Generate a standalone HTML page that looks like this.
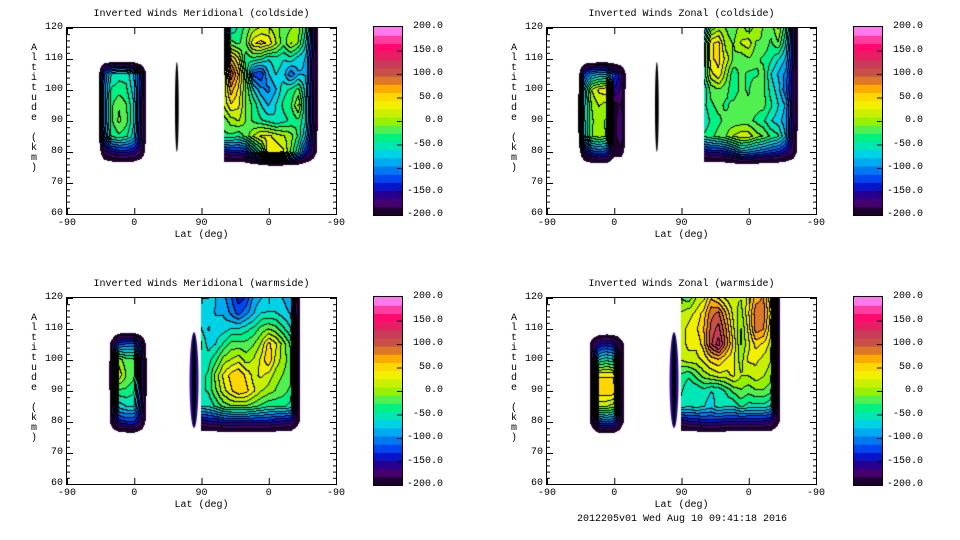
<!DOCTYPE html>
<html><head><meta charset="utf-8">
<style>
html,body{margin:0;padding:0;background:#fff;}
#root{position:relative;width:960px;height:540px;overflow:hidden;background:#fff;font-family:"Liberation Mono","DejaVu Sans Mono",monospace;font-size:10px;color:#000;}
.abs{position:absolute;white-space:nowrap;}
canvas{position:absolute;}
svg{position:absolute;left:0;top:0;}
</style></head>
<body>
<div id="root">
<div class="abs" style="left:577px;top:514px;">2012205v01 Wed Aug 10 09:41:18 2016</div>
</div>
<script>
// ---- data ----
const levelColors=['#1e0030','#46006e','#280090','#0a14c8','#0046f0','#0078f0','#00aaf0','#00d2e6','#00e6b4','#00f082','#50f050','#96f000','#c8f000','#f0f000','#ffd700','#ffaa00','#dc7828','#c85046','#c83c5a','#e61e64','#ff0a6e','#ff3ca0','#ff78f0'];
const xTickLabels=['-90','0','90','0','-90'];
const yTickLabels=['120','110','100','90','80','70','60'];
const cbarLabels=['200.0','150.0','100.0','50.0','0.0','-50.0','-100.0','-150.0','-200.0'];
const panelTitles=['Inverted Winds Meridional (coldside)','Inverted Winds Zonal (coldside)','Inverted Winds Meridional (warmside)','Inverted Winds Zonal (warmside)'];
// grid: columns every 10 deg of path (0..360), rows altitude 120..60 step 5
const tlLeft=[
[-240,-240,-240,-240,-240,-240,-240,-240],
[-240,-120,-60,-50,-50,-80,-150,-240],
[-240,-110,-40,-35,-40,-70,-150,-240],
[-240,-110,-30,-10,-25,-60,-160,-240],
[-240,-110,-30,-5,-20,-60,-160,-240],
[-240,-120,-40,-30,-40,-70,-160,-240],
[-240,-170,-150,-140,-140,-150,-180,-240],
[-240,-240,-240,-240,-240,-240,-240,-240]];
const tlRight=[
[-180,-60,-40,-20,0,10,10,0,-20,-10,0,-40,-150,-240],
[-150,-20,-30,-10,40,50,40,10,-20,10,-10,-60,-150,-240],
[-80,60,30,-40,-30,-40,-60,-50,-60,-50,-70,-80,-160,-240],
[0,110,60,-20,-120,-130,-80,-60,-70,-110,-80,-80,-160,-240],
[10,70,40,-10,-60,-90,-100,-80,-50,-40,-20,-70,-160,-240],
[10,40,30,-10,-30,-60,-80,-60,-40,-30,10,-60,-160,-240],
[-20,0,10,-10,-30,-40,-50,-60,-50,-40,-30,-60,-160,-240],
[-30,-30,-40,-20,10,30,30,20,10,0,-30,-80,-170,-240],
[-150,-140,-140,-130,-80,-40,40,40,30,-10,-60,-130,-180,-240],
[-240,-240,-240,-240,-240,-240,-240,-240,-240,-240,-240,-240,-240,-240]];
const trLeft=[
[-240,-240,-240,-240,-240,-240,-240,-240],
[-240,-130,-90,-80,-80,-120,-160,-240],
[-240,-80,10,30,40,-150,-170,-240],
[-240,-70,-10,10,0,-190,-180,-240],
[-240,-70,-10,-5,-10,-190,-170,-240],
[-240,-80,-10,0,-10,-190,-170,-240],
[-240,-160,-120,-110,-120,-190,-190,-240],
[-240,-240,-240,-240,-240,-240,-240,-240]];
const trRight=[
[-100,-20,0,-10,-20,0,-20,0,-10,-20,10,-40,-150,-240],
[-60,40,50,0,-10,10,20,-10,-10,-30,-10,-60,-150,-240],
[-60,40,50,20,-10,-20,-10,-20,-30,-40,-60,-80,-150,-240],
[-40,20,40,0,-40,-20,-30,-30,-20,-60,-80,-100,-160,-240],
[-60,-20,-10,-20,-40,-20,-30,-10,-20,-50,-70,-110,-160,-240],
[-50,-30,-20,-30,-20,-10,-20,-20,-20,-40,-60,-80,-160,-240],
[-60,-40,-30,-20,-20,-20,-20,-30,-40,-60,-70,-90,-160,-240],
[-40,-30,-20,-10,10,20,20,0,-10,-30,-40,-80,-170,-240],
[-150,-140,-140,-130,-110,-80,-90,-100,-110,-120,-130,-150,-180,-240],
[-240,-240,-240,-240,-240,-240,-240,-240,-240,-240,-240,-240,-240,-240]];
const blLeft=[
[-240,-240,-240,-240,-240,-240,-240],
[-240,-190,-120,-110,-110,-160,-240],
[-240,-190,0,-20,-20,-140,-240],
[-240,-180,20,-10,-20,-140,-240],
[-240,-190,-30,-30,-40,-140,-240],
[-240,-190,-70,-60,-60,-150,-240],
[-240,-190,-140,-130,-130,-170,-240],
[-240,-240,-240,-240,-240,-240,-240]];
const blRight=[
[-60,-60,-80,-90,-110,-140,-130,-90,-80,-70,-70,-80,-90,-200,-240],
[-70,-70,-80,-80,-100,-120,-100,-80,-60,-60,-60,-70,-80,-200,-240],
[-60,-80,-70,-70,-60,-60,-50,-40,-20,-10,-20,-40,-60,-200,-240],
[-40,-70,-60,-40,-20,-20,-20,-10,10,50,30,0,-30,-200,-240],
[-50,-50,-30,0,10,20,0,10,30,60,20,0,-20,-200,-240],
[-50,-40,0,30,50,60,40,20,30,20,0,-10,-20,-200,-240],
[-50,-40,-10,20,40,60,50,30,10,0,-10,-20,-30,-200,-240],
[-60,-60,-40,-20,-10,-10,-10,-20,-30,-40,-40,-40,-50,-200,-240],
[-160,-150,-150,-140,-140,-140,-140,-140,-140,-140,-150,-150,-160,-200,-240],
[-240,-240,-240,-240,-240,-240,-240,-240,-240,-240,-240,-240,-240,-240,-240]];
const brLeft=[
[-240,-240,-240,-240,-240,-240,-240],
[-240,-190,-150,-140,-150,-190,-240],
[-240,-190,-60,-50,-60,-190,-240],
[-240,-190,40,40,40,-190,-240],
[-240,-190,60,60,60,-190,-240],
[-240,-190,10,10,0,-190,-240],
[-240,-190,-120,-110,-120,-190,-240],
[-240,-240,-240,-240,-240,-240,-240]];
const brRight=[
[-10,-20,10,20,60,40,20,10,10,30,70,80,30,-200,-240],
[10,20,30,50,90,100,60,20,0,40,90,90,40,-200,-240],
[20,30,40,60,100,120,80,30,-10,30,90,80,30,-200,-240],
[20,30,30,50,110,140,90,40,-10,20,50,40,20,-200,-240],
[10,20,20,30,50,60,40,30,0,30,30,20,10,-200,-240],
[-30,-40,-20,0,10,20,20,30,10,10,20,10,0,-200,-240],
[-40,-60,-60,-50,-60,-60,-40,-20,-10,-20,-10,-10,-20,-200,-240],
[-50,-60,-50,-60,-70,-50,-60,-60,-40,-50,-50,-50,-60,-200,-240],
[-160,-150,-150,-140,-140,-140,-150,-150,-150,-150,-150,-150,-160,-200,-240],
[-240,-240,-240,-240,-240,-240,-240,-240,-240,-240,-240,-240,-240,-240,-240]];
// slivers: [pathDeg, altLow, altHigh, widthDeg]
const coldSlivers=[[147,80,109,5]];
const warmSlivers=[[170,78,109,12]];

// ---- layout ----
const panels=[
 {x:67,y:28,title:panelTitles[0],blocks:[[4,110,tlLeft],[21,120,tlRight]],sl:coldSlivers,warm:false,name:'meridional-coldside'},
 {x:547,y:28,title:panelTitles[1],blocks:[[4,110,trLeft],[21,120,trRight]],sl:coldSlivers,warm:false,name:'zonal-coldside'},
 {x:67,y:298,title:panelTitles[2],blocks:[[5,110,blLeft],[18,120,blRight]],sl:warmSlivers,warm:true,name:'meridional-warmside'},
 {x:547,y:298,title:panelTitles[3],blocks:[[5,110,brLeft],[18,120,brRight]],sl:warmSlivers,warm:true,name:'zonal-warmside'}];
const PW=269,PH=186,CUT=-205;
const root=document.getElementById('root');
const NS='http://www.w3.org/2000/svg';
function sx(p){return p/360*PW;}
function sy(a){return (120-a)/60*PH;}
function level(v){let l=Math.floor((v+200)/400*levelColors.length);return Math.max(0,Math.min(levelColors.length-1,l));}
function hex(c){return [parseInt(c.slice(1,3),16),parseInt(c.slice(3,5),16),parseInt(c.slice(5,7),16)];}
const rgb=levelColors.map(hex);

function buildGrid(blocks){
  const g=[];for(let r=0;r<13;r++){g.push(new Array(37).fill(null));}
  blocks.forEach(b=>{const c0=b[0],r0=(120-b[1])/5;b[2].forEach((row,i)=>row.forEach((v,j)=>{g[r0+i][c0+j]=v;}));});
  return g;
}
function div(txt,l,t,name,extra){const d=document.createElement('div');d.className='abs';d.textContent=txt;d.style.left=l+'px';d.style.top=t+'px';if(extra)Object.assign(d.style,extra);


root.appendChild(d);return d;}

panels.forEach((P,pi)=>{
  const g=buildGrid(P.blocks);
  const cv=document.createElement('canvas');cv.width=PW;cv.height=PH;cv.style.left=P.x+'px';cv.style.top=P.y+'px';
  
  
  root.appendChild(cv);
  const ctx=cv.getContext('2d');const img=ctx.createImageData(PW,PH);
  const L=new Int16Array(PW*PH).fill(-1);
  for(let y=0;y<PH;y++){for(let x=0;x<PW;x++){
    const c=(x+0.5)/PW*36,r=(y+0.5)/PH*12;
    const c0=Math.floor(c),r0=Math.floor(r),c1=Math.min(36,c0+1),r1=Math.min(12,r0+1);
    const a=g[r0][c0],b=g[r0][c1],d=g[r1][c0],e=g[r1][c1];
    if(a===null||b===null||d===null||e===null)continue;
    const fx=c-c0,fy=r-r0;
    const v=a*(1-fx)*(1-fy)+b*fx*(1-fy)+d*(1-fx)*fy+e*fx*fy;
    if(v<CUT)continue;
    L[y*PW+x]=level(v);
  }}
  for(let y=0;y<PH;y++){for(let x=0;x<PW;x++){
    const i=y*PW+x,l=L[i];const o=i*4;
    if(l<0){img.data[o]=255;img.data[o+1]=255;img.data[o+2]=255;img.data[o+3]=255;continue;}
    let col=rgb[l];
    const rt=x+1<PW?L[i+1]:-1,dn=y+1<PH?L[i+PW]:-1;
    if((rt>=0&&rt!==l)||(dn>=0&&dn!==l))col=[0,0,0];
    img.data[o]=col[0];img.data[o+1]=col[1];img.data[o+2]=col[2];img.data[o+3]=255;
  }}
  ctx.putImageData(img,0,0);
  P.sl.forEach(s=>{
    const cx=sx(s[0]),w=sx(s[3]),top=sy(s[2]),bot=sy(s[1]);
    if(P.warm){
      const layers=[['#46006e',1],['#0a14c8',0.7],['#000',0.45]];
      layers.forEach(([c,f])=>{ctx.fillStyle=c;ctx.beginPath();ctx.ellipse(cx,(top+bot)/2,w/2*f,(bot-top)/2*(f>0.9?1:0.97),0,0,Math.PI*2);ctx.fill();});
    }else{
      ctx.fillStyle='#000';ctx.beginPath();ctx.ellipse(cx,(top+bot)/2,w/2,(bot-top)/2,0,0,Math.PI*2);ctx.fill();
    }
  });

  // axes svg
  const svg=document.createElementNS(NS,'svg');svg.setAttribute('width',960);svg.setAttribute('height',540);
  
  
  root.appendChild(svg);
  function ln(x1,y1,x2,y2){const l=document.createElementNS(NS,'line');l.setAttribute('x1',x1);l.setAttribute('y1',y1);l.setAttribute('x2',x2);l.setAttribute('y2',y2);l.setAttribute('stroke','#000');l.setAttribute('stroke-width','1');svg.appendChild(l);return l;}
  const fr=document.createElementNS(NS,'rect');fr.setAttribute('x',P.x-0.5);fr.setAttribute('y',P.y-0.5);fr.setAttribute('width',PW+1);fr.setAttribute('height',PH+1);fr.setAttribute('fill','none');fr.setAttribute('stroke','#000');
  
  
  svg.appendChild(fr);
  for(let a=60;a<=120;a+=2){const y=P.y+sy(a)+0.5;const len=(a%10===0)?6:3;ln(P.x,y,P.x+len,y);ln(P.x+PW-len,y,P.x+PW,y);}
  xTickLabels.forEach((t,i)=>{const x=P.x+sx(i*90)+0.5;ln(x,P.y+PH,x,P.y+PH-6);ln(x,P.y,x,P.y+6);
    div(t,P.x+sx(i*90)-t.length*3,P.y+PH+4,P.name+'-x-tick-label');});
  yTickLabels.forEach((t,i)=>{div(t,P.x-4-t.length*6,P.y+sy(120-i*10)-6,P.name+'-y-tick-label');});
  div(P.title,P.x+PW/2-P.title.length*3,P.y-19,P.name+'-title');
  div('Lat (deg)',P.x+PW/2-27,P.y+PH+16,P.name+'-x-axis-title');
  const yl=div('',P.x-37,P.y+16,P.name+'-y-axis-title',{whiteSpace:'normal',width:'8px',lineHeight:'10px',textAlign:'center'});
  yl.innerHTML='A<br>l<br>t<br>i<br>t<br>u<br>d<br>e<br>&nbsp;<br>(<br>k<br>m<br>)';
  // colorbar
  const cbx=P.x+307,cby=P.y-1,cbw=28,cbh=188;
  const n=levelColors.length;
  levelColors.forEach((c,i)=>{const r=document.createElementNS(NS,'rect');const h=cbh/n;
    r.setAttribute('x',cbx);r.setAttribute('y',cby+cbh-(i+1)*h);r.setAttribute('width',cbw);r.setAttribute('height',h+0.6);r.setAttribute('fill',c);
    
    
    svg.appendChild(r);});
  const cf=document.createElementNS(NS,'rect');cf.setAttribute('x',cbx-0.5);cf.setAttribute('y',cby-0.5);cf.setAttribute('width',cbw+1);cf.setAttribute('height',cbh+1);cf.setAttribute('fill','none');cf.setAttribute('stroke','#000');
  
  
  svg.appendChild(cf);
  cbarLabels.forEach((t,i)=>{const y=cby+i*cbh/8;if(i>0&&i<8)ln(cbx+cbw-5,y+0.5,cbx+cbw,y+0.5);
    div(t,cbx+69-t.length*6,y-6,P.name+'-colorbar-label');});
});
</script>
</body></html>
